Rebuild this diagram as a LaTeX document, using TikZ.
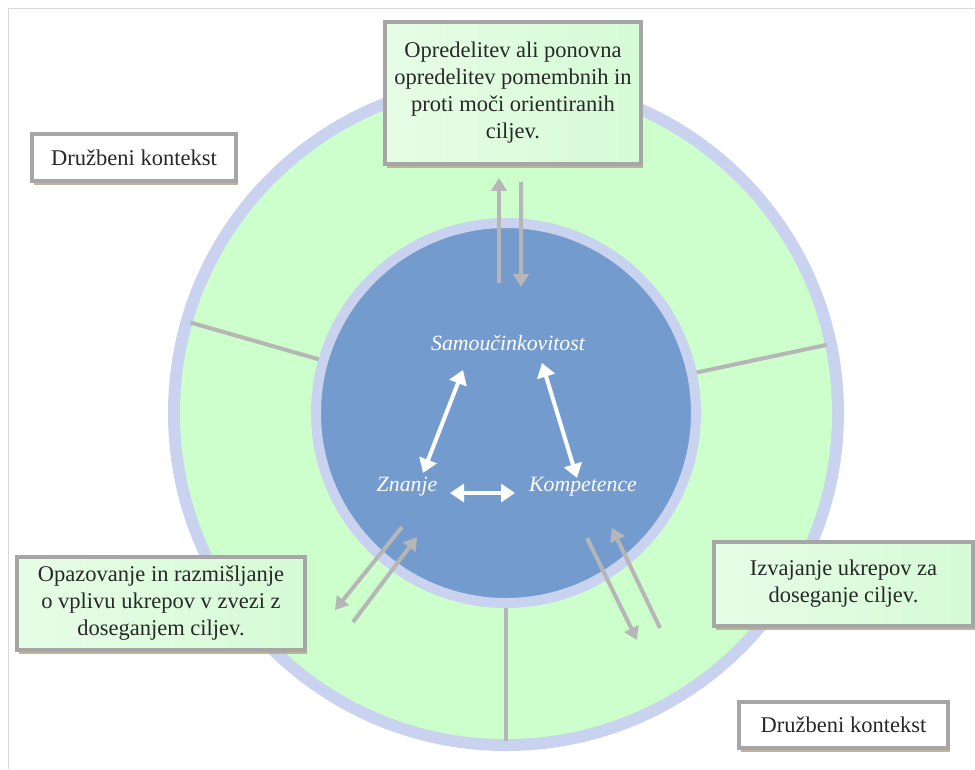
\documentclass[tikz,border=0pt]{standalone}
\usepackage{fontspec}
\setmainfont{Liberation Serif}
\usetikzlibrary{arrows.meta,shadows}
\definecolor{ringlav}{RGB}{201,211,240}
\definecolor{ringgreen}{RGB}{204,255,204}
\definecolor{coreblue}{RGB}{116,155,206}
\definecolor{linegrey}{RGB}{182,182,182}
\definecolor{boxgrey}{RGB}{166,166,166}
\definecolor{boxgreen}{RGB}{214,251,214}
\definecolor{shadowtan}{RGB}{184,172,150}
\definecolor{textgrey}{RGB}{40,40,40}

\tikzset{
  infobox/.style={draw=boxgrey, line width=0.1cm, align=center, text=textgrey,
    font=\fontsize{16}{19.2}\selectfont, inner sep=0pt,
    drop shadow={shadow xshift=0.05cm, shadow yshift=-0.1cm, fill=shadowtan, opacity=0.9}},
  goalbox/.style={infobox, left color=boxgreen!60!white, right color=boxgreen},
  ctxbox/.style={infobox, fill=white},
  corelabel/.style={text=white, font=\fontsize{15.5}{18}\selectfont\itshape},
  whitearrow/.style={white, line width=0.1cm,
    {Triangle[length=0.35cm,width=0.45cm]}-{Triangle[length=0.35cm,width=0.45cm]}},
  greyarrow/.style={linegrey, line width=0.1cm, -{Triangle[length=0.32cm,width=0.38cm]}},
  divider/.style={linegrey, line width=0.1cm}
}

\begin{document}
\begin{tikzpicture}
  % Ozadje in okvir
  \fill[white] (0,0) rectangle (24.375,-19.225);
  \useasboundingbox (0,0) rectangle (24.375,-19.225);
  \draw[gray!30, line width=0.5pt] (0.2,-19.225) -- (0.2,-0.2) -- (24.375,-0.2);

  % Kolobar
  \coordinate (c) at (12.65,-10.325);
  \fill[ringlav] (c) circle (8.45);
  \fill[ringgreen] (c) circle (8.15);
  \foreach \a in {164,12,270} {
    \draw[divider] ([shift={(\a:4.8)}]c) -- ([shift={(\a:8.2)}]c);
  }
  \node[circle, fill=coreblue, draw=ringlav, line width=0.25cm, minimum size=9.5cm] (core) at (c) {};

  % Oznake v sredini
  \node[corelabel] (sam) at (12.7,-8.575) {Samoučinkovitost};
  \node[corelabel] (zn) at (10.175,-12.175) {Znanje};
  \node[corelabel] (komp) at (14.575,-12.175) {Kompetence};
  \draw[whitearrow] ([shift={(-1.125,-0.675)}]sam.center) -- ([shift={(0.4,0.35)}]zn.center);
  \draw[whitearrow] ([shift={(0.85,-0.5)}]sam.center) -- ([shift={(-0.15,0.225)}]komp.center);
  \draw[whitearrow] ([shift={(1.075,-0.15)}]zn.center) -- ([shift={(-1.7,-0.15)}]komp.center);

  % Okvirji
  \node[goalbox, minimum width=6.4cm, minimum height=3.55cm] (goal) at (12.825,-2.325)
    {Opredelitev ali ponovna\\opredelitev pomembnih in\\proti moči orientiranih\\ciljev.};
  \node[ctxbox, minimum width=5.1cm, minimum height=1.175cm] (ctxtop) at (3.35,-3.9375)
    {Družbeni kontekst};
  \node[goalbox, minimum width=7.2cm, minimum height=2.325cm] (obs) at (4.025,-15.0875)
    {Opazovanje in razmišljanje\\o vplivu ukrepov v zvezi z\\doseganjem ciljev.};
  \node[goalbox, minimum width=6.475cm, minimum height=2.1cm] (act) at (21.0875,-14.6)
    {Izvajanje ukrepov za\\doseganje ciljev.};
  \node[ctxbox, minimum width=5.225cm, minimum height=1.15cm] (ctxbot) at (21.0875,-18.125)
    {Družbeni kontekst};

  % Povezave med okvirji in jedrom
  \draw[greyarrow] ([shift={(-0.175,3.25)}]core.center) -- ([shift={(-0.35,-0.3)}]goal.south);
  \draw[greyarrow] ([shift={(0.2,-0.4)}]goal.south) -- ([shift={(0.375,3.15)}]core.center);
  \draw[greyarrow] ([shift={(-2.6,-2.85)}]core.center) -- ([shift={(0.7,-0.1625)}]obs.east);
  \draw[greyarrow] ([shift={(1.15,-0.4625)}]obs.east) -- ([shift={(-2.225,-3.1)}]core.center);
  \draw[greyarrow] ([shift={(2.025,-3.125)}]core.center) -- ([shift={(-1.875,-1.4)}]act.west);
  \draw[greyarrow] ([shift={(-1.3,-1.1)}]act.west) -- ([shift={(2.65,-2.875)}]core.center);
\end{tikzpicture}
\end{document}
